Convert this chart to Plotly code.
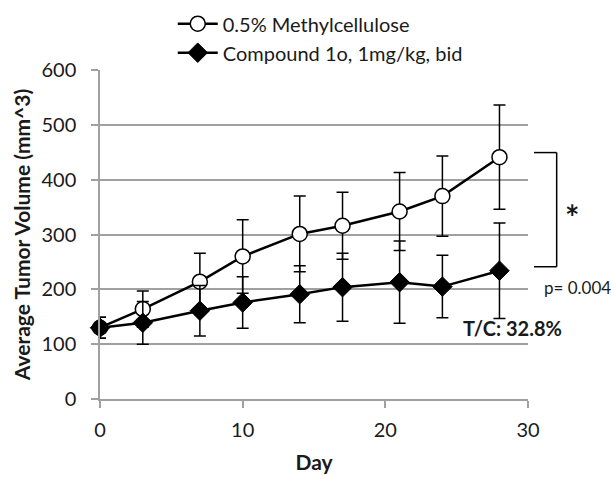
import plotly.graph_objects as go

days = [0, 3, 7, 10, 14, 17, 21, 24, 28]
vehicle_mean = [130, 164, 214, 260, 301, 316, 342, 370, 441]
vehicle_err = [19, 33, 52, 67, 69, 61, 71, 73, 95]
compound_mean = [130, 139, 161, 176, 191, 204, 213, 205, 234]
compound_err = [19, 39, 46, 47, 52, 62, 75, 57, 87]
names = ["0.5% Methylcellulose", "Compound 1o, 1mg/kg, bid"]
x_ticks = [0, 10, 20, 30]
y_ticks = [0, 100, 200, 300, 400, 500, 600]

FONT = "Lato"
TXT = "#1a1a1a"
GRID = "#a0a0a0"

fig = go.Figure()
fig.add_trace(go.Scatter(
    x=days, y=vehicle_mean, name=names[0], mode="lines+markers",
    line=dict(color="black", width=2.5),
    marker=dict(symbol="circle", size=15, color="white", line=dict(color="black", width=1.5)),
    error_y=dict(type="data", array=vehicle_err, visible=True, color="black", thickness=1.5, width=6),
    cliponaxis=False,
))
fig.add_trace(go.Scatter(
    x=days, y=compound_mean, name=names[1], mode="lines+markers",
    line=dict(color="black", width=2.5),
    marker=dict(symbol="diamond", size=15, color="black", line=dict(color="black", width=1)),
    error_y=dict(type="data", array=compound_err, visible=True, color="black", thickness=1.5, width=6),
    cliponaxis=False,
))

fig.update_layout(
    width=612, height=477,
    margin=dict(l=100, r=84, t=70, b=78, autoexpand=False),
    paper_bgcolor="white", plot_bgcolor="white",
    font=dict(family=FONT, size=20, color=TXT),
    showlegend=True,
    legend=dict(
        x=0.17, y=1.2, xanchor="left", yanchor="top",
        bgcolor="rgba(0,0,0,0)", font=dict(family=FONT, size=20, color=TXT),
        tracegroupgap=0, itemwidth=40,
    ),
    xaxis=dict(
        range=[0, 30], tickvals=x_ticks, ticktext=[str(v) for v in x_ticks],
        showgrid=False, zeroline=False,
        showline=True, linecolor=GRID, linewidth=1.5,
        ticks="outside", ticklen=7, tickcolor=GRID, tickwidth=1.5,
        ticklabelstandoff=5,
        tickfont=dict(family=FONT, size=20, color=TXT),
        title=dict(text="<b>Day</b>", font=dict(family=FONT, size=21, color=TXT), standoff=16),
    ),
    yaxis=dict(
        range=[0, 600], tickvals=y_ticks, ticktext=[str(v) for v in y_ticks],
        showgrid=True, gridcolor=GRID, gridwidth=1.5, zeroline=False,
        showline=True, linecolor=GRID, linewidth=1.5,
        ticks="outside", ticklen=7, tickcolor=GRID, tickwidth=1.5,
        ticklabelstandoff=11,
        tickfont=dict(family=FONT, size=20, color=TXT),
        title=dict(text="<b>Average Tumor Volume (mm^3)</b>", font=dict(family=FONT, size=21, color=TXT), standoff=5),
    ),
)

# significance bracket
bx0, bx1, by0, by1 = 1.014, 1.067, 0.402, 0.749
for (xa, ya, xb, yb) in [(bx0, by1, bx1, by1), (bx1, by1, bx1, by0), (bx0, by0, bx1, by0)]:
    fig.add_shape(type="line", xref="paper", yref="paper", x0=xa, y0=ya, x1=xb, y1=yb,
                  line=dict(color="black", width=1.5))

fig.add_annotation(text="<b>*</b>", xref="paper", yref="paper", x=1.103, y=0.555,
                   xanchor="center", yanchor="middle",
                   showarrow=False, font=dict(family=FONT, size=34, color=TXT))
fig.add_annotation(text="p= 0.004", xref="paper", yref="paper", x=1.033, y=0.34,
                   xanchor="left", yanchor="middle",
                   showarrow=False, font=dict(family=FONT, size=17, color=TXT))
fig.add_annotation(text="<b>T/C: 32.8%</b>", xref="paper", yref="paper", x=0.843, y=0.216,
                   xanchor="left", yanchor="middle",
                   showarrow=False, font=dict(family=FONT, size=20, color=TXT))

fig.write_html("out.html", config={"displayModeBar": False},
               post_script="document.body.style.margin='0';")
